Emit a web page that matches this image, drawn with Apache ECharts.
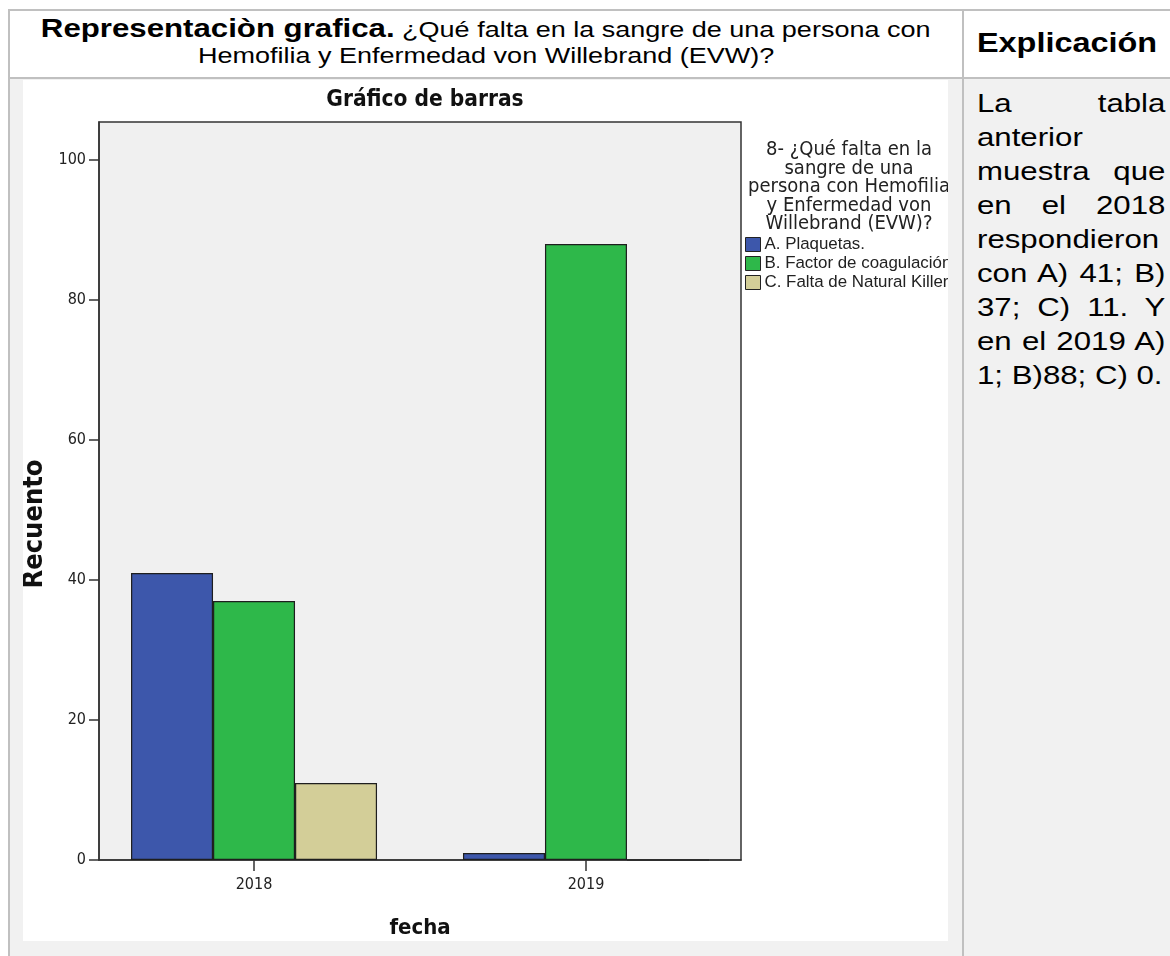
<!DOCTYPE html>
<html>
<head>
<meta charset="utf-8">
<script src="https://cdn.jsdelivr.net/npm/echarts@6/dist/echarts.min.js"></script>
<style>
  html, body { margin: 0; padding: 0; background: #ffffff; }
  #page { position: relative; width: 1170px; height: 956px; overflow: hidden; background: #ffffff; font-family: "Liberation Sans", Arial, sans-serif; }
  .hline, .vline { position: absolute; background: #c0c0c0; }
  #headL { position: absolute; left: 10px; top: 11px; width: 952px; height: 62px; display: flex; flex-direction: column; justify-content: center; align-items: center; text-align: center; color: #000; }
  #headL .ln { font-size: 22.5px; line-height: 26px; transform: scaleX(1.2); white-space: nowrap; }
  #headL b { font-size: 26px; }
  #headR { position: absolute; left: 964px; top: 11px; width: 206px; height: 64px; display: flex; align-items: center; justify-content: center; font-weight: bold; font-size: 27px; color: #000; }
  #headR span { transform: scaleX(1.2); display: inline-block; }
  #bodyBg { position: absolute; left: 10px; top: 79px; width: 1160px; height: 877px; background: #f1f1f1; }
  #chart { position: absolute; left: 23px; top: 80px; width: 925px; height: 861px; background: #ffffff; }
  #expl { position: absolute; left: 977px; top: 86px; width: 157px; font-size: 26px; line-height: 34px; text-align: justify; color: #000; transform: scaleX(1.2); transform-origin: 0 0; }
</style>
</head>
<body>
<div id="page">
  <div id="bodyBg"></div>
  <div class="hline" style="left:8px; top:9px; width:1162px; height:2px;"></div>
  <div class="hline" style="left:8px; top:77px; width:1162px; height:2px;"></div>
  <div class="vline" style="left:8px; top:9px; width:2px; height:947px;"></div>
  <div class="vline" style="left:962px; top:9px; width:2px; height:947px;"></div>
  <div id="headL"><div class="ln"><b>Representaciòn grafica.</b> ¿Qué falta en la sangre de una persona con</div><div class="ln">Hemofilia y Enfermedad von Willebrand (EVW)?</div></div>
  <div id="headR"><span>Explicación</span></div>
  <div id="chart"></div>
  <div id="expl">La tabla anterior muestra que en el 2018 respondieron con A) 41; B) 37; C) 11. Y en el 2019 A) 1; B)88; C) 0.</div>
</div>
<script>
// ---- data ----
const categories = ['2018', '2019'];
const seriesNames = ['A. Plaquetas.', 'B. Factor de coagulación', 'C. Falta de Natural Killer'];
const valuesA = [41, 1];
const valuesB = [37, 88];
const valuesC = [11, 0];
const yTicks = [0, 20, 40, 60, 80, 100];
const chartTitle = 'Gráfico de barras';
const legendTitle = '8- ¿Qué falta en la\nsangre de una\npersona con Hemofilia\ny Enfermedad von\nWillebrand (EVW)?';
const xName = 'fecha';
const yName = 'Recuento';

const colors = ['#3d57ab', '#2eb84a', '#d3ce98'];
const cond = '"DejaVu Sans Condensed", "Liberation Sans Narrow", "Liberation Sans", sans-serif';
const arial = '"Liberation Sans", Arial, sans-serif';
const catNums = categories.map(Number);

const chart = echarts.init(document.getElementById('chart'), null, { renderer: 'canvas' });

const allSeries = [valuesA, valuesB, valuesC].map((vals, i) => ({
  name: seriesNames[i],
  type: 'bar',
  barWidth: 82,
  barGap: '0%',
  data: vals.map((v, j) => [catNums[j], v]),
  itemStyle: { color: colors[i], borderColor: '#1e1e1e', borderWidth: 1.2 },
  emphasis: { disabled: true },
  animation: false
}));

chart.setOption({
  animation: false,
  backgroundColor: '#ffffff',
  textStyle: { fontFamily: cond },
  title: [
    { text: chartTitle, left: 402, top: 9, padding: 0, textAlign: 'center',
      textStyle: { fontFamily: cond, fontWeight: 'bold', fontSize: 22.5, color: '#111' } },
    { text: legendTitle, left: 826, top: 61, padding: 0, textAlign: 'center',
      textStyle: { fontFamily: cond, fontWeight: 'normal', fontSize: 20, lineHeight: 18.5, color: '#222' } }
  ],
  legend: {
    orient: 'vertical', left: 722, top: 156, padding: 0,
    itemWidth: 15, itemHeight: 14, itemGap: 2,
    icon: 'rect',
    itemStyle: { borderColor: '#222', borderWidth: 1 },
    textStyle: { fontFamily: arial, fontSize: 16.9, lineHeight: 14, color: '#222', padding: [0, 0, 0, -1] },
    data: seriesNames
  },
  grid: {
    left: 76, right: 207, top: 42, bottom: 81,
    outerBoundsMode: 'none', containLabel: false,
    show: true, backgroundColor: '#f0f0f0', borderColor: '#333', borderWidth: 1.5
  },
  graphic: [
    { type: 'text', x: 12, y: 444, rotation: Math.PI / 2, silent: true,
      style: { text: yName, fontFamily: cond, fontWeight: 'bold', fontSize: 27, fill: '#111', textAlign: 'center', textVerticalAlign: 'middle' } }
  ],
  xAxis: {
    type: 'value',
    min: 2017.533, max: 2019.467,
    name: xName, nameLocation: 'middle', nameGap: 57,
    nameTextStyle: { fontFamily: cond, fontWeight: 'bold', fontSize: 22, color: '#111' },
    axisLine: { show: true, lineStyle: { color: '#333', width: 1.5 } },
    axisTick: { show: true, length: 11, customValues: catNums, lineStyle: { color: '#333', width: 1.5 } },
    axisLabel: { customValues: catNums, margin: 17, fontFamily: cond, fontSize: 16, color: '#222',
      formatter: v => { const k = catNums.indexOf(Math.round(v)); return Math.abs(v - Math.round(v)) < 1e-6 && k >= 0 ? categories[k] : ''; } },
    splitLine: { show: false }
  },
  yAxis: {
    type: 'value', min: 0, max: 105.43,
    axisLine: { show: true, lineStyle: { color: '#333', width: 1.5 } },
    axisTick: { show: true, length: 10, customValues: yTicks, lineStyle: { color: '#333', width: 1.5 } },
    axisLabel: { customValues: yTicks, margin: 13, fontFamily: cond, fontSize: 16, color: '#222',
      formatter: v => (yTicks.indexOf(v) >= 0 ? String(v) : '') },
    splitLine: { show: false }
  },
  series: allSeries
});
</script>
</body>
</html>
